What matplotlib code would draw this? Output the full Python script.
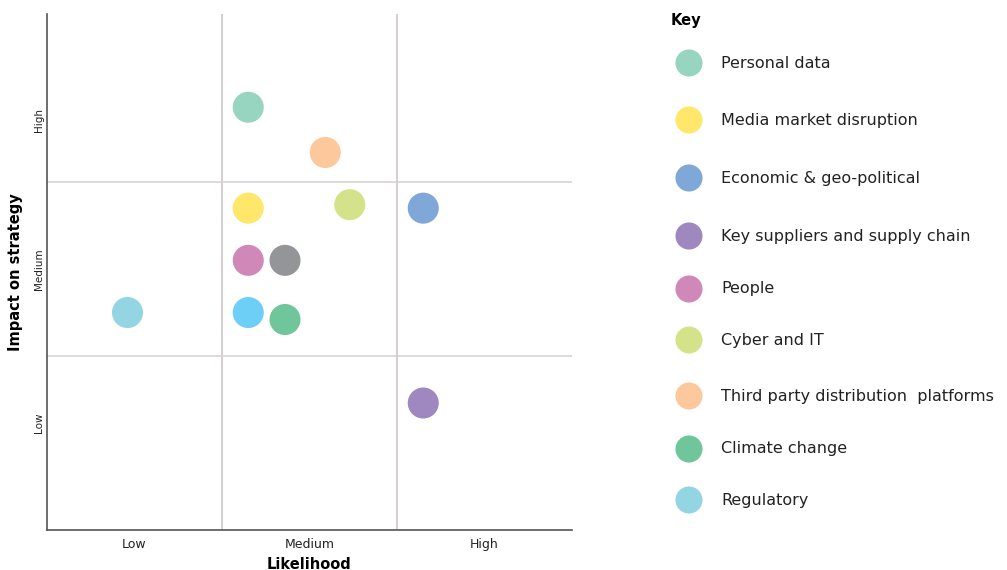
import matplotlib.pyplot as plt

plt.rcParams['font.family'] = ['DejaVu Sans']

# risk register: likelihood (x) and impact (y)
risks = ["Personal data", "Media market disruption", "Economic & geo-political",
         "Key suppliers and supply chain", "People", "Cyber and IT",
         "Third party distribution  platforms", "Climate change", "Regulatory"]
likelihood = [1.15, 1.15, 2.15, 2.15, 1.15, 1.73, 1.59, 1.36, 0.46]
impact = [2.43, 1.85, 1.85, 0.73, 1.55, 1.87, 2.17, 1.21, 1.25]
colors = ["#98d5c0", "#fee76a", "#7fa8d8", "#9e88bf", "#d088b9",
          "#d4e28a", "#fdc89b", "#70c59b", "#93d5e2"]

# two further risks plotted without a key entry
extra_likelihood = [1.36, 1.15]
extra_impact = [1.55, 1.25]
extra_colors = ["#939598", "#6dcff6"]

levels = ["Low", "Medium", "High"]

fig = plt.figure(figsize=(10.07, 5.70), dpi=100)
ax = fig.add_axes([47 / 1007, 40 / 570, 525 / 1007, 516 / 570])

# quadrant lines
for v in (1, 2):
    ax.axvline(v, color="#cdc6c3", lw=1.2, zorder=1)
    ax.axhline(v, color="#d6d6d6", lw=1.2, zorder=1)

ax.scatter(likelihood, impact, s=500, c=colors, edgecolors="none", zorder=3)
ax.scatter(extra_likelihood, extra_impact, s=500, c=extra_colors,
           edgecolors="none", zorder=3)

ax.set_xlim(0, 3)
ax.set_ylim(0, 2.966)
for side in ("top", "right"):
    ax.spines[side].set_visible(False)
for side in ("left", "bottom"):
    ax.spines[side].set_color("#555555")
    ax.spines[side].set_linewidth(1.2)

ax.set_xticks([0.5, 1.5, 2.5])
ax.set_xticklabels(levels, fontsize=9, color="#222222")
ax.set_yticks([0.615, 1.5, 2.356])
ax.set_yticklabels(levels, fontsize=7.5, color="#222222", rotation=90, va="center")
ax.tick_params(axis="x", length=0, pad=6)
ax.tick_params(axis="y", length=0, pad=2)
ax.set_xlabel("Likelihood", fontsize=10.5, fontweight="bold", labelpad=4)
ax.set_ylabel("Impact on strategy", fontsize=10.5, fontweight="bold", labelpad=8)

# key on the right, drawn in pixel coordinates
lax = fig.add_axes([0, 0, 1, 1])
lax.set_xlim(0, 1007)
lax.set_ylim(570, 0)
lax.axis("off")
rows = [63, 120, 178, 236, 289, 340, 396, 449, 500]
lax.text(671, 20, "Key", fontsize=10.5, fontweight="bold", va="center", ha="left")
lax.scatter([689] * len(rows), rows, s=380, c=colors, edgecolors="none")
for name, y in zip(risks, rows):
    lax.text(721, y, name, fontsize=11.5, color="#222222", va="center", ha="left")

fig.savefig("out.png", dpi=100)
